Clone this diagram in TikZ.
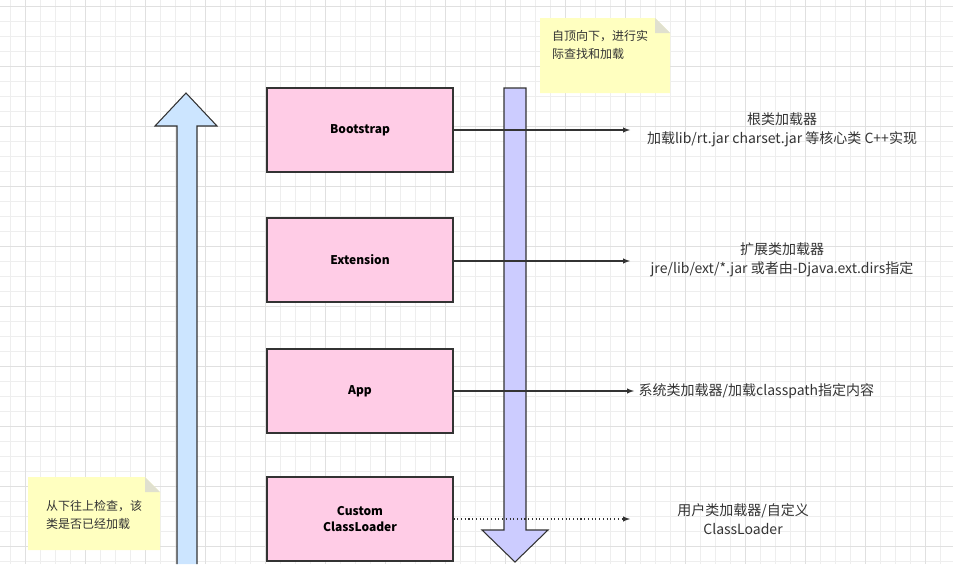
\documentclass[tikz,border=0pt]{standalone}
\usepackage{fontspec}
\setmainfont{Noto Sans CJK SC}
\usepackage{tikz}
\usetikzlibrary{arrows,shapes.arrows,positioning,calc}
\definecolor{mygrid}{RGB}{238,238,238}
\definecolor{mygridb}{RGB}{224,224,224}
\definecolor{myblue}{RGB}{204,229,255}
\definecolor{mypurple}{RGB}{204,204,255}
\definecolor{mypink}{RGB}{255,204,230}
\definecolor{mynote}{RGB}{255,255,192}
\definecolor{myline}{RGB}{51,51,51}
\begin{document}
\begin{tikzpicture}[x=0.75pt,y=-0.75pt,
        box/.style={
            draw=myline, thick, fill=mypink, minimum width=139.5pt,
            minimum height=63pt, font=\bfseries\fontsize{9}{12}\selectfont, align=center
        },
        lbl/.style={font=\fontsize{10.5}{14}\selectfont, align=center, text=myline},
        link/.style={->, >=latex, thick, myline},
        note/.style={fill=mynote, draw=none},
        fat/.style={draw=myline, thick}
      ]
  \useasboundingbox (0,0) rectangle (953,564);
  % grid
  \foreach \x in {10,25,...,953} \draw[mygrid] (\x,0) -- (\x,564);
  \foreach \y in {6,21,...,564} \draw[mygrid] (0,\y) -- (953,\y);
  \foreach \x in {25,85,...,953} \draw[mygridb] (\x,0) -- (\x,564);
  \foreach \y in {6,66,...,564} \draw[mygridb] (0,\y) -- (953,\y);

  % big arrows
  \draw[fat, fill=myblue] (177,564) -- (177,126) -- (155,126) -- (186,93)
    -- (217,126) -- (197,126) -- (197,564);
  \draw[fat, fill=mypurple] (504,88) -- (526,88) -- (526,530) -- (548,530)
    -- (515,562) -- (482,530) -- (504,530) -- cycle;

  % loaders
  \node[box] (boot) at (360,130) {Bootstrap};
  \node[box] (ext) at (360,260) {Extension};
  \node[box] (app) at (360,391) {App};
  \node[box] (cust) at (360,519) {Custom\\ClassLoader};

  \node[lbl] (bootl) at (782,130) {根类加载器\\加载lib/rt.jar charset.jar 等核心类 C++实现};
  \node[lbl] (extl) at (782,260) {扩展类加载器\\jre/lib/ext/*.jar 或者由-Djava.ext.dirs指定};
  \node[lbl, anchor=west] (appl) at (634,391) {系统类加载器/加载classpath指定内容};
  \node[lbl] (custl) at (743,519) {用户类加载器/自定义\\ClassLoader};

  \coordinate (bootend) at (630,130);
  \coordinate (extend) at (630,261);
  \coordinate (custend) at (630,519);
  \draw[link] (boot.east |- bootend) -- (bootend);
  \draw[link] (ext.east |- extend) -- (extend);
  \draw[link] (app.east) -- (appl.west);
  \draw[link, dotted] (cust.east |- custend) -- (custend);

  % notes
  \fill[note] (540,18) -- (655,18) -- (670,33) -- (670,93) -- (540,93) -- cycle;
  \fill[mynote!70!black!40] (655,18) -- (655,33) -- (670,33) -- cycle;
  \node[lbl, font=\fontsize{9}{13}\selectfont, align=left] (top) at (600,45) {自顶向下，进行实\\际查找和加载};
  \fill[note] (28,477) -- (145,477) -- (160,492) -- (160,550) -- (28,550) -- cycle;
  \fill[mynote!70!black!40] (145,477) -- (145,492) -- (160,492) -- cycle;
  \node[lbl, font=\fontsize{9}{13}\selectfont, align=left] (bottom) at (94,515) {从下往上检查，该\\类是否已经加载};
\end{tikzpicture}
\end{document}
